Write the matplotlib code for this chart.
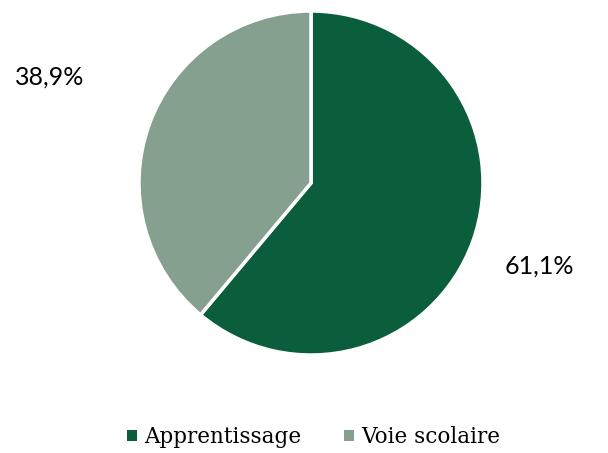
import numpy as np
import matplotlib.pyplot as plt
from matplotlib.patches import Patch

labels = ['Apprentissage', 'Voie scolaire']
values = [61.1, 38.9]
pct_text = ['61,1%', '38,9%']
colors = ['#0B5E3C', '#86A08F']

fig = plt.figure(figsize=(6.08, 4.53), dpi=100)
ax = fig.add_axes([0.2286, 0.2163, 0.5658, 0.7594])

wedges, _ = ax.pie(values, colors=colors, startangle=90, counterclock=False,
                   wedgeprops=dict(edgecolor='white', linewidth=2.5))
ax.set_xlim(-1, 1)
ax.set_ylim(-1, 1)
ax.set_aspect('equal')

# labels placed outside, at different distances like the original
label_dist = [1.41, 1.64]
label_shift = [0, -2]  # degrees
for w, txt, d, s in zip(wedges, pct_text, label_dist, label_shift):
    ang = np.deg2rad((w.theta1 + w.theta2) / 2 + s)
    ax.text(d * np.cos(ang), d * np.sin(ang), txt, ha='center', va='center',
            fontsize=18, family='Lato', clip_on=False)

handles = [Patch(facecolor=c, edgecolor='none') for c in colors]
fig.legend(handles, labels, loc='center', bbox_to_anchor=(0.516, 0.035),
           ncol=2, frameon=False, handlelength=0.45, handleheight=0.45,
           handletextpad=0.35, columnspacing=2.0,
           prop=dict(family='DejaVu Serif', size=15.5))

fig.savefig('out.png', dpi=100)
